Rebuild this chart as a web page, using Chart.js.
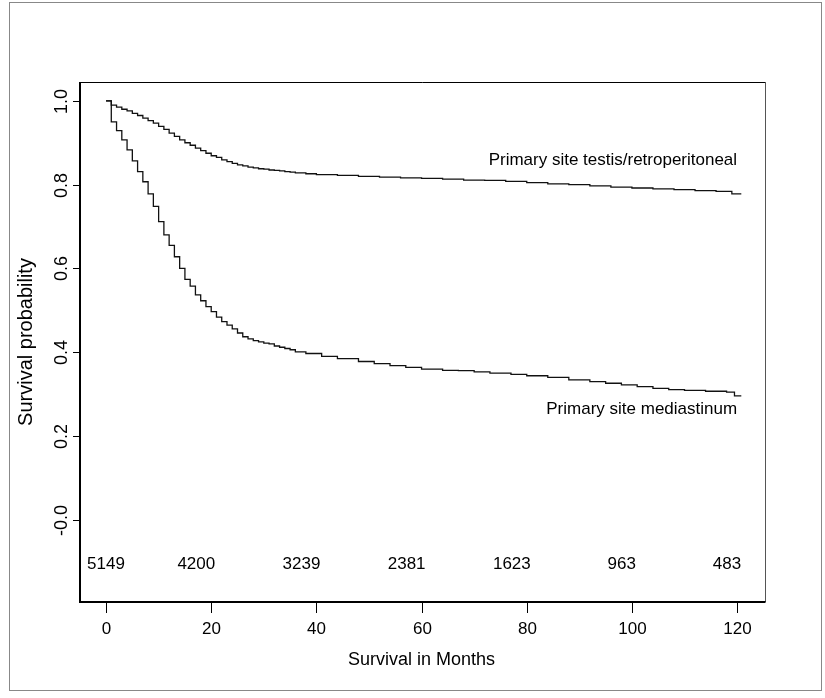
<!DOCTYPE html>
<html>
<head>
<meta charset="utf-8">
<script src="https://cdn.jsdelivr.net/npm/chart.js@4/dist/chart.umd.min.js"></script>
<style>
  body { margin: 0; background: #fff; }
  #wrap { width: 825px; height: 698px; }
</style>
</head>
<body>
<div id="wrap"><canvas id="grafico" width="825" height="698"></canvas></div>
<script>
// Kaplan-Meier curves (months, survival)
const testisMonths = [0, 1, 2, 3, 4, 5, 6, 7, 8, 9, 10, 11, 12, 13, 14, 15, 16, 17, 18, 19, 20,
  21, 22, 23, 24, 25, 26, 27, 28, 29, 30, 31, 32, 33, 34, 35, 36, 38, 40, 44, 48, 52, 56, 60,
  64, 68, 72, 76, 80, 84, 88, 92, 96, 100, 104, 108, 112, 116, 119, 120.8];
const testisSurv = [1.0, 0.990, 0.985, 0.980, 0.976, 0.970, 0.965, 0.959, 0.953, 0.947, 0.939,
  0.932, 0.923, 0.915, 0.907, 0.900, 0.894, 0.887, 0.881, 0.875, 0.869, 0.865, 0.859, 0.855,
  0.851, 0.847, 0.845, 0.842, 0.840, 0.838, 0.837, 0.835, 0.834, 0.833, 0.831, 0.830, 0.828,
  0.826, 0.824, 0.822, 0.820, 0.818, 0.816, 0.815, 0.813, 0.811, 0.810, 0.808, 0.805, 0.802,
  0.800, 0.797, 0.794, 0.792, 0.790, 0.788, 0.786, 0.784, 0.778, 0.778];

const mediaMonths = [0, 1, 2, 3, 4, 5, 6, 7, 8, 9, 10, 11, 12, 13, 14, 15, 16, 17, 18, 19, 20,
  21, 22, 23, 24, 25, 26, 27, 28, 29, 30, 31, 32, 33, 34, 35, 36, 38, 41, 44, 48, 51, 54, 57,
  60, 64, 67, 70, 73, 77, 80, 84, 88, 92, 95, 98, 101, 104, 107, 110, 114, 118, 119.5, 120.8];
const mediaSurv = [1.0, 0.950, 0.929, 0.907, 0.883, 0.857, 0.831, 0.807, 0.778, 0.748, 0.712,
  0.680, 0.655, 0.628, 0.600, 0.574, 0.558, 0.537, 0.523, 0.509, 0.497, 0.484, 0.473, 0.465,
  0.456, 0.446, 0.437, 0.432, 0.428, 0.425, 0.422, 0.420, 0.415, 0.412, 0.409, 0.406, 0.401,
  0.397, 0.390, 0.385, 0.378, 0.373, 0.368, 0.364, 0.360, 0.357, 0.356, 0.353, 0.350, 0.347,
  0.344, 0.340, 0.334, 0.330, 0.326, 0.322, 0.318, 0.314, 0.311, 0.309, 0.307, 0.305, 0.296, 0.296];

// numbers at risk
const atRiskMonths = [0, 20, 40, 60, 80, 100, 120];
const atRiskCounts = ['5149', '4200', '3239', '2381', '1623', '963', '483'];
const atRiskLevel = -0.105;

const xTicks = [0, 20, 40, 60, 80, 100, 120];
const yTicks = [1.0, 0.8, 0.6, 0.4, 0.2, 0.0];
const yTickLabels = ['1.0', '0.8', '0.6', '0.4', '0.2', '-0.0'];

const curveLabels = ['Primary site testis/retroperitoneal', 'Primary site mediastinum'];
const curveLabelY = [0.859, 0.263];

const FAMILY = '"Liberation Sans", Arial, sans-serif';

function toPoints(xs, ys) {
  return xs.map((x, i) => ({ x: x, y: ys[i] }));
}

// marco, ejes y textos
const decoraciones = {
  id: 'decoraciones',
  beforeDraw(chart) {
    const ctx = chart.ctx;
    ctx.save();
    ctx.fillStyle = '#fff';
    ctx.fillRect(0, 0, chart.width, chart.height);
    ctx.strokeStyle = '#888';
    ctx.lineWidth = 1;
    ctx.strokeRect(9.5, 2.5, 812, 688);
    ctx.restore();
  },
  afterDraw(chart) {
    const ctx = chart.ctx;
    const a = chart.chartArea;
    const xs = chart.scales.x;
    const ys = chart.scales.y;
    ctx.save();

    // plot box
    ctx.strokeStyle = '#000';
    ctx.lineWidth = 1;
    ctx.beginPath();
    ctx.moveTo(a.left, a.top + 0.5);
    ctx.lineTo(a.right, a.top + 0.5);
    ctx.stroke();
    ctx.strokeStyle = '#555';
    ctx.beginPath();
    ctx.moveTo(a.right, a.top);
    ctx.lineTo(a.right, a.bottom);
    ctx.stroke();
    ctx.strokeStyle = '#000';
    ctx.lineWidth = 2;
    ctx.beginPath();
    ctx.moveTo(a.left, a.top);
    ctx.lineTo(a.left, a.bottom);
    ctx.lineTo(a.right, a.bottom);
    ctx.stroke();

    ctx.fillStyle = '#000';
    ctx.lineWidth = 1;
    ctx.textAlign = 'center';
    ctx.textBaseline = 'middle';

    // x ticks
    ctx.font = '17px ' + FAMILY;
    xTicks.forEach(t => {
      const px = Math.round(xs.getPixelForValue(t)) + 0.5;
      ctx.beginPath();
      ctx.moveTo(px, a.bottom);
      ctx.lineTo(px, a.bottom + 11);
      ctx.stroke();
      ctx.fillText(String(t), px, a.bottom + 27);
    });

    // y ticks, rotated labels
    ctx.font = '18px ' + FAMILY;
    yTicks.forEach((t, i) => {
      const py = Math.round(ys.getPixelForValue(t)) + 0.5;
      ctx.beginPath();
      ctx.moveTo(a.left - 7, py);
      ctx.lineTo(a.left, py);
      ctx.stroke();
      ctx.save();
      ctx.translate(a.left - 18, py);
      ctx.rotate(-Math.PI / 2);
      ctx.fillText(yTickLabels[i], 0, 0);
      ctx.restore();
    });

    // axis titles
    ctx.font = '18px ' + FAMILY;
    ctx.fillText('Survival in Months', xs.getPixelForValue(60), 660);
    ctx.font = '20px ' + FAMILY;
    ctx.save();
    ctx.translate(26, 342);
    ctx.rotate(-Math.PI / 2);
    ctx.fillText('Survival probability', 0, 0);
    ctx.restore();

    // numbers at risk
    ctx.font = '17px ' + FAMILY;
    const yr = ys.getPixelForValue(atRiskLevel);
    atRiskMonths.forEach((m, i) => {
      ctx.textAlign = i === 0 ? 'center' : 'right';
      ctx.fillText(atRiskCounts[i], xs.getPixelForValue(m) + (i === 0 ? 0 : 4), yr);
    });

    // curve labels
    ctx.textAlign = 'right';
    curveLabels.forEach((txt, i) => {
      ctx.fillText(txt, xs.getPixelForValue(120), ys.getPixelForValue(curveLabelY[i]));
    });

    ctx.restore();
  }
};

const grafico = document.getElementById('grafico');
new Chart(grafico, {
  type: 'line',
  data: {
    datasets: [
      {
        label: curveLabels[0],
        data: toPoints(testisMonths, testisSurv),
        stepped: 'before',
        borderColor: '#111',
        borderWidth: 1.3,
        pointRadius: 0,
        fill: false
      },
      {
        label: curveLabels[1],
        data: toPoints(mediaMonths, mediaSurv),
        stepped: 'before',
        borderColor: '#111',
        borderWidth: 1.3,
        pointRadius: 0,
        fill: false
      }
    ]
  },
  options: {
    responsive: false,
    animation: false,
    layout: { padding: { left: 80, top: 82, right: 59.5, bottom: 96 } },
    plugins: {
      legend: { display: false },
      tooltip: { enabled: false }
    },
    scales: {
      x: { type: 'linear', min: -4.95, max: 125.4, display: false },
      y: { type: 'linear', min: -0.196, max: 1.045, display: false }
    }
  },
  plugins: [decoraciones]
});
</script>
</body>
</html>
